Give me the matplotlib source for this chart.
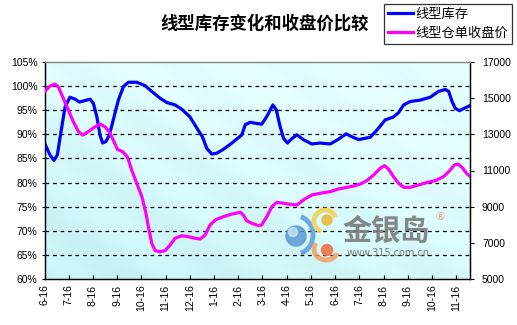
import matplotlib
matplotlib.use('Agg')
import matplotlib.pyplot as plt
import numpy as np
from matplotlib.patches import Circle, Arc
from matplotlib.lines import Line2D

plt.rcParams['font.family'] = ['Noto Sans CJK SC', 'DejaVu Sans']

# ---------------- data ----------------
month_labels = ['6-16', '7-16', '8-16', '9-16', '10-16', '11-16', '12-16', '1-16', '2-16',
                '3-16', '4-16', '5-16', '6-16', '7-16', '8-16', '9-16', '10-16', '11-16']

# time in months since first label
t_inv = [0, 0.23, 0.39, 0.53, 0.67, 0.85, 1.05, 1.26, 1.44, 1.67, 1.88, 2.02, 2.16, 2.29, 2.40,
         2.54, 2.68, 2.84, 3.05, 3.26, 3.46, 3.81, 4.15, 4.43, 4.77, 5.05, 5.39, 5.67, 6.01, 6.29,
         6.52, 6.70, 6.91, 7.12, 7.39, 7.74, 8.15, 8.29, 8.49, 8.70, 8.97, 9.18, 9.43, 9.57, 9.73,
         9.87, 10.03, 10.21, 10.42, 10.69, 11.04, 11.38, 11.80, 12.14, 12.46, 12.69, 12.97, 13.45,
         13.73, 14.07, 14.41, 14.62, 14.83, 15.10, 15.52, 15.93, 16.27, 16.55, 16.69, 16.83, 16.96,
         17.14, 17.33, 17.55]
inventory_pct = [88.2, 85.7, 84.6, 85.7, 90.2, 95.7, 97.7, 97.3, 96.7, 97.0, 97.3, 96.4, 93.7, 89.9,
                 88.2, 88.5, 89.9, 93.0, 97.1, 99.9, 100.8, 100.8, 100.1, 98.9, 97.5, 96.6, 96.1,
                 95.2, 93.6, 91.3, 89.5, 87.1, 85.9, 86.1, 86.9, 88.2, 89.9, 92.0, 92.5, 92.3, 92.1,
                 93.7, 96.1, 95.1, 91.6, 89.2, 88.2, 89.1, 89.9, 88.9, 88.0, 88.2, 88.0, 89.0, 90.1,
                 89.5, 88.9, 89.4, 90.9, 93.0, 93.6, 94.5, 96.1, 96.8, 97.1, 97.7, 98.9, 99.3, 98.9,
                 96.8, 95.4, 94.9, 95.4, 95.9]

t_price = [0, 0.23, 0.43, 0.57, 0.78, 0.98, 1.19, 1.40, 1.58, 1.81, 2.09, 2.29, 2.50, 2.71, 2.87,
           3.01, 3.23, 3.42, 3.60, 3.81, 4.02, 4.19, 4.29, 4.43, 4.57, 4.77, 4.98, 5.19, 5.39, 5.67,
           5.94, 6.22, 6.43, 6.63, 6.84, 7.05, 7.39, 7.74, 8.08, 8.21, 8.35, 8.56, 8.83, 8.97, 9.18,
           9.39, 9.59, 9.87, 10.14, 10.42, 10.69, 11.04, 11.38, 11.80, 12.14, 12.49, 12.76, 13.04,
           13.31, 13.59, 13.86, 14.04, 14.21, 14.41, 14.62, 14.83, 15.10, 15.45, 15.79, 16.14,
           16.48, 16.73, 16.92, 17.06, 17.24, 17.42, 17.55]
price = [15360, 15670, 15780, 15630, 14990, 14350, 13700, 13150, 12960, 13150, 13420, 13570, 13420,
         13060, 12590, 12170, 12040, 11760, 11030, 10290, 9560, 8630, 7890, 6970, 6570, 6510, 6570,
         6880, 7250, 7390, 7340, 7250, 7210, 7430, 7990, 8260, 8450, 8590, 8690, 8540, 8220, 8080,
         7950, 7990, 8450, 9000, 9240, 9190, 9130, 9090, 9370, 9650, 9740, 9830, 9980, 10070, 10140,
         10250, 10440, 10750, 11120, 11270, 11070, 10660, 10290, 10070, 10070, 10200, 10330, 10440,
         10660, 10990, 11300, 11360, 11180, 10850, 10700]

left_ticks = [60, 65, 70, 75, 80, 85, 90, 95, 100, 105]
right_ticks = [5000, 7000, 9000, 11000, 13000, 15000, 17000]

title = '线型库存变化和收盘价比较'
name_inv = '线型库存'
name_price = '线型仓单收盘价'

# ---------------- figure ----------------
W, H = 517, 325
fig = plt.figure(figsize=(W / 100, H / 100), dpi=100)
fig.patch.set_facecolor('white')

L, R, T, B = 44.5, 469.5, 62, 279
ax = fig.add_axes([L / W, 1 - B / H, (R - L) / W, (B - T) / H])
ax.set_xlim(0, 17.55)
ax.set_ylim(60, 105)

# background gradient
ny, nx = 60, 120
yy, xx = np.mgrid[0:1:ny * 1j, 0:1:nx * 1j]
d = np.clip(0.55 * xx + 0.9 * yy, 0, 1)
c0 = np.array([0.78, 0.95, 0.97])
c1 = np.array([0.89, 1.0, 1.0])
img = c0[None, None, :] * (1 - d[..., None]) + c1[None, None, :] * d[..., None]
stripe = 0.012 * np.sin((xx * 8 + yy * 5) * np.pi)
img = np.clip(img + stripe[..., None], 0, 1)
ax.imshow(img, extent=[0, 1, 1, 0], transform=ax.transAxes, aspect='auto', zorder=0)

for v in left_ticks[1:-1]:
    ax.axhline(v, color='black', lw=0.9, ls=(0, (3, 3)), zorder=1)

ax.plot(t_inv, inventory_pct, color='#0000FF', lw=2.3, zorder=3, solid_joinstyle='round')

ax2 = ax.twinx()
ax2.set_ylim(5000, 17000)
ax2.plot(t_price, price, color='#FF00FF', lw=2.3, zorder=3, solid_joinstyle='round')

ax.set_yticks(left_ticks)
ax.set_yticklabels([f'{v}%' for v in left_ticks])
ax2.set_yticks(right_ticks)
ax2.set_yticklabels([str(v) for v in right_ticks])
ax.set_xticks(range(len(month_labels)))
ax.set_xticklabels(month_labels, rotation=90)

for lab in ax.get_yticklabels() + ax2.get_yticklabels() + ax.get_xticklabels():
    lab.set_fontfamily(['Liberation Sans', 'DejaVu Sans'])
    lab.set_fontsize(7.5)

ax.tick_params(axis='y', direction='out', length=2, width=0.8, pad=3)
ax.tick_params(axis='x', direction='in', length=3, width=0.8, pad=4)
ax2.tick_params(axis='y', direction='out', length=3, width=0.8, pad=6)

for a in (ax, ax2):
    a.spines['top'].set_color('#888888')
    a.spines['left'].set_color('black')
    a.spines['bottom'].set_color('black')
    a.spines['right'].set_color('black')
    for s in a.spines.values():
        s.set_linewidth(0.9)
ax2.patch.set_visible(False)

# title
fig.text(265 / W, 1 - 24 / H, title, ha='center', va='center', fontsize=12.5, fontweight='bold')

# legend
handles = [Line2D([], [], color='#0000FF', lw=2.3), Line2D([], [], color='#FF00FF', lw=2.3)]
leg = fig.legend(handles, [name_inv, name_price], loc='upper right',
                 bbox_to_anchor=(512 / W, 1 - 4 / H), frameon=True, fancybox=False,
                 fontsize=9.5, handlelength=1.9, handletextpad=0.15, borderpad=0.3,
                 labelspacing=0.45, borderaxespad=0)
leg.get_frame().set_edgecolor('black')
leg.get_frame().set_linewidth(0.9)

# watermark overlay in pixel coordinates
ov = fig.add_axes([0, 0, 1, 1], zorder=5)
ov.set_xlim(0, W)
ov.set_ylim(H, 0)
ov.axis('off')
ov.patch.set_visible(False)
ov.add_patch(Arc((296, 235), 34, 38, theta1=-75, theta2=75, color='#4a8fd8', lw=3.5, alpha=0.75))
ov.add_patch(Circle((296, 236), 10, color='#5b9bd5', alpha=0.85))
ov.add_patch(Circle((293, 232), 4.5, color='#c6e6f8', alpha=0.8))
ov.add_patch(Arc((325, 221), 22, 22, theta1=110, theta2=340, color='#f2d050', lw=3.5, alpha=0.85))
ov.add_patch(Circle((327, 220), 5, color='#e6bc3a', alpha=0.9))
ov.add_patch(Arc((326, 249), 24, 22, theta1=20, theta2=210, color='#f4a060', lw=3.5, alpha=0.85))
ov.add_patch(Circle((327, 250), 5.5, color='#ee7448', alpha=0.9))
ov.text(386, 232, '金银岛', ha='center', va='center', fontsize=21, color='#7a7a7a', alpha=0.9,
        fontweight='bold')
ov.text(388, 252.5, 'www.315.com.cn', ha='center', va='center', fontsize=7, color='#7a7a7a',
        family=['DejaVu Sans'])
ov.text(440, 217, '®', ha='center', va='center', fontsize=8, color='#f0a090', family=['DejaVu Sans'])

fig.savefig('out.png', dpi=100)
